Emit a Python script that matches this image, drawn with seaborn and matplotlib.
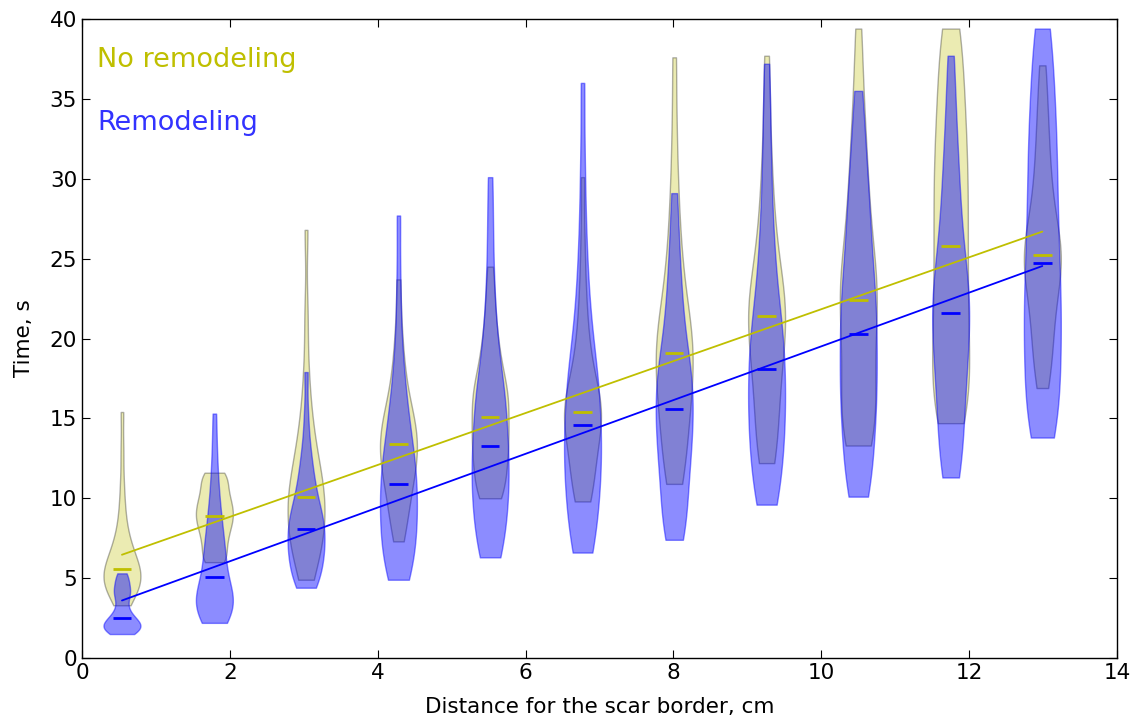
import numpy as np
import pandas as pd
import seaborn as sns
import matplotlib.pyplot as plt

# distance from the scar border (cm) for each violin pair
positions = [0.54, 1.79, 3.03, 4.28, 5.52, 6.77, 8.01, 9.26, 10.5, 11.75, 12.99]

# activation times (s), one list per distance
no_remodel = [
    [3.3, 3.5, 3.8, 4.0, 4.2, 4.4, 4.55, 4.7, 4.8, 4.9, 5.0, 5.1, 5.2, 5.3, 5.5,
     5.7, 5.85, 6.0, 6.2, 6.4, 6.6, 6.9, 7.2, 7.6, 8.1, 8.8, 9.7, 11.0, 13.0, 15.4],
    [6.0, 6.05, 6.1, 6.3, 6.6, 6.9, 7.1, 7.3, 7.5, 7.7, 7.9, 8.1, 8.25, 8.4, 8.55, 8.7, 8.85,
     8.95, 9.1, 9.25, 9.4, 9.55, 9.7, 9.85, 10.0, 10.2, 10.4, 10.6, 10.8, 11.0, 11.3, 11.45,
     11.55, 11.6],
    [4.9, 5.4, 5.9, 6.4, 6.8, 7.2, 7.5, 7.8, 8.1, 8.4, 8.7, 9.0, 9.3, 9.65, 10.0,
     10.2, 10.5, 10.8, 11.1, 11.5, 11.9, 12.4, 12.9, 13.5, 14.2, 15.1, 16.3, 18.2, 21.5, 26.8],
    [7.3, 8.0, 8.7, 9.3, 9.8, 10.3, 10.7, 11.1, 11.5, 11.8, 12.1, 12.4, 12.7, 13.0, 13.3,
     13.5, 13.8, 14.1, 14.4, 14.7, 15.0, 15.4, 15.8, 16.3, 16.9, 17.6, 18.5, 19.6, 21.2, 23.7],
    [10.0, 10.15, 10.3, 10.7, 11.1, 11.5, 11.9, 12.3, 12.7, 13.0, 13.3, 13.6, 13.9, 14.2, 14.5,
     14.9, 15.3, 15.6, 16.0, 16.3, 16.5, 16.7, 17.1, 17.5, 18.0, 18.5, 19.1, 19.8, 20.6, 21.6,
     22.9, 24.5],
    [9.8, 10.0, 10.3, 10.9, 11.4, 11.9, 12.4, 12.8, 13.2, 13.6, 14.0, 14.3, 14.6, 14.9, 15.1,
     15.3, 15.5, 15.8, 16.1, 16.3, 16.5, 16.9, 17.4, 17.9, 18.5, 19.2, 20.0, 21.0, 22.3, 24.0,
     26.5, 30.1],
    [10.9, 11.2, 11.8, 12.6, 13.3, 14.0, 14.6, 15.2, 15.7, 16.2, 16.7, 17.2, 17.6, 18.0, 18.4,
     18.9, 19.3, 19.8, 20.0, 20.3, 20.8, 21.4, 22.0, 22.7, 23.5, 24.4, 25.5, 26.8, 28.4, 30.5,
     33.5, 37.6],
    [12.2, 12.5, 13.1, 14.0, 14.8, 15.6, 16.3, 17.0, 17.6, 18.2, 18.8, 19.3, 19.8, 20.3, 20.8,
     21.2, 21.6, 22.0, 22.1, 22.6, 23.1, 23.7, 24.3, 25.0, 25.8, 26.7, 27.8, 29.0, 30.5, 32.3,
     34.8, 37.7],
    [13.3, 13.5, 13.7, 14.2, 14.8, 15.4, 16.0, 16.7, 17.4, 18.1, 18.8, 19.5, 20.2, 20.9, 21.6,
     22.2, 22.6, 23.2, 23.5, 23.9, 24.6, 25.4, 26.2, 27.1, 28.0, 29.0, 30.1, 31.3, 32.7, 34.3,
     36.5, 39.4],
    [14.7, 14.9, 15.4, 16.1, 16.8, 17.5, 18.2, 18.9, 19.7, 20.5, 21.3, 22.1, 22.9, 23.7, 24.5,
     25.4, 26.2, 27.0, 27.8, 28.6, 29.4, 30.2, 31.0, 31.8, 32.7, 33.6, 34.5, 35.5, 36.6, 37.9,
     39.2, 39.4],
    [16.9, 17.7, 18.5, 19.3, 20.0, 20.7, 21.4, 22.0, 22.6, 23.1, 23.6, 24.0, 24.4, 24.8, 25.1,
     25.3, 25.6, 26.0, 26.4, 26.9, 27.5, 28.1, 28.8, 29.6, 30.5, 31.5, 32.6, 33.8, 35.3, 37.1],
]

remodel = [
    [1.5, 1.6, 1.7, 1.75, 1.8, 1.9, 1.95, 2.0, 2.05, 2.1, 2.2, 2.3, 2.45,
     2.55, 2.7, 2.9, 3.2, 3.6, 3.8, 4.1, 4.2, 4.3, 4.6, 4.9, 5.1, 5.3],
    [2.2, 2.35, 2.55, 2.75, 2.95, 3.1, 3.25, 3.4, 3.55, 3.7, 3.85, 4.0, 4.2, 4.45, 4.8,
     5.4, 5.7, 6.0, 6.35, 6.7, 7.1, 7.5, 8.0, 8.5, 9.1, 9.8, 10.7, 11.8, 13.3, 15.3],
    [4.4, 4.55, 4.7, 5.0, 5.3, 5.6, 5.9, 6.15, 6.4, 6.6, 6.8, 7.0, 7.2, 7.45, 7.7, 8.0,
     8.2, 8.45, 8.6, 8.7, 9.0, 9.3, 9.6, 10.0, 10.4, 10.8, 11.3, 11.9, 12.6, 13.5, 15.2, 17.9],
    [4.9, 5.1, 5.3, 5.8, 6.3, 6.8, 7.2, 7.6, 8.0, 8.4, 8.8, 9.1, 9.4, 9.8, 10.2, 10.7,
     11.1, 11.5, 11.8, 12.0, 12.5, 13.0, 13.5, 14.1, 14.7, 15.4, 16.2, 17.1, 18.4, 20.3, 23.5, 27.7],
    [6.3, 6.5, 6.8, 7.4, 8.0, 8.6, 9.1, 9.6, 10.1, 10.5, 10.9, 11.3, 11.7, 12.1, 12.6, 13.1,
     13.5, 14.0, 14.5, 15.0, 15.6, 16.2, 16.5, 16.9, 17.6, 18.5, 19.5, 20.7, 22.2, 24.3, 27.0, 30.1],
    [6.6, 6.8, 7.2, 7.9, 8.6, 9.3, 9.9, 10.5, 11.0, 11.5, 12.0, 12.5, 12.9, 13.3, 13.8, 14.3,
     14.9, 15.4, 16.0, 16.6, 17.2, 17.5, 17.9, 18.7, 19.6, 20.6, 21.8, 23.2, 25.0, 27.5, 31.0, 36.0],
    [7.4, 7.6, 8.1, 8.9, 9.6, 10.3, 10.9, 11.5, 12.1, 12.6, 13.1, 13.6, 14.1, 14.5, 14.9, 15.4,
     15.8, 16.3, 16.8, 17.3, 17.6, 17.9, 18.5, 19.1, 19.8, 20.6, 21.5, 22.5, 23.7, 25.0, 26.8, 29.1],
    [9.6, 9.8, 10.3, 11.0, 11.7, 12.4, 13.0, 13.6, 14.2, 14.7, 15.2, 15.7, 16.2, 16.7, 17.2, 17.8,
     18.4, 19.0, 19.6, 20.0, 20.3, 21.0, 21.8, 22.7, 23.7, 24.8, 26.1, 27.6, 29.4, 31.6, 34.2, 37.2],
    [10.1, 10.4, 11.0, 11.9, 12.8, 13.6, 14.3, 15.0, 15.6, 16.2, 16.8, 17.4, 18.0, 18.6, 19.2, 19.9,
     20.7, 21.4, 21.8, 22.1, 22.9, 23.7, 24.5, 25.3, 26.2, 27.1, 28.1, 29.1, 30.3, 31.6, 33.4, 35.5],
    [11.3, 11.6, 12.3, 13.3, 14.2, 15.0, 15.8, 16.5, 17.2, 17.9, 18.5, 19.1, 19.7, 20.3, 20.9, 21.3,
     21.9, 22.5, 22.8, 23.1, 23.8, 24.5, 25.3, 26.1, 27.0, 28.0, 29.1, 30.3, 31.6, 33.1, 35.2, 37.7],
    [13.8, 14.0, 14.6, 15.4, 16.2, 17.0, 17.8, 18.6, 19.3, 20.0, 20.7, 21.4, 22.1, 22.8, 23.5, 24.3,
     25.1, 25.9, 26.7, 27.6, 28.5, 29.4, 30.3, 31.2, 32.1, 33.0, 34.0, 35.0, 36.1, 37.4, 39.2, 39.4],
]


def long_form(groups):
    rows = [(p, v) for p, vals in zip(positions, groups) for v in vals]
    return pd.DataFrame(rows, columns=["distance", "time"])


sns.set_style("ticks")
plt.rcParams.update({
    "font.family": ["DejaVu Sans"],
    "xtick.direction": "in", "ytick.direction": "in",
    "xtick.top": True, "ytick.right": True,
    "xtick.major.size": 6, "ytick.major.size": 6,
    "axes.edgecolor": "black", "axes.labelcolor": "black",
    "xtick.color": "black", "ytick.color": "black",
})

fig, ax = plt.subplots(figsize=(11.3, 7.25), dpi=100)
fig.subplots_adjust(left=0.0726, right=0.9885, top=0.9738, bottom=0.0924)

groups = [
    (no_remodel, (0.75, 0.75, 0.0), (0.75, 0.75, 0.0, 0.3), (0.0, 0.0, 0.0, 0.3)),
    (remodel, (0.0, 0.0, 1.0), (0.0, 0.0, 1.0, 0.45), (0.0, 0.0, 1.0, 0.45)),
]
for data, col, face, edge in groups:
    n0 = len(ax.collections)
    sns.violinplot(data=long_form(data), x="distance", y="time", native_scale=True,
                   orient="x", cut=0, density_norm="width", width=0.403, inner=None,
                   bw_adjust=0.7, color=col, linewidth=1, ax=ax)
    for c in ax.collections[n0:]:
        c.set_facecolor(face)
        c.set_edgecolor(edge)

    # medians and the straight-line fit through them
    med = np.array([np.median(v) for v in data])
    ax.hlines(med, np.array(positions) - 0.125, np.array(positions) + 0.125,
              color=col, lw=2, zorder=3)
    k, b = np.polyfit(positions, med, 1)
    xs = np.array([positions[0], positions[-1]])
    ax.plot(xs, k * xs + b, color=col, lw=1.3, zorder=3)

ax.text(0.0145, 0.925, "No remodeling", color="y", fontsize=19.5,
        transform=ax.transAxes, va="baseline")
ax.text(0.0145, 0.826, "Remodeling", color="b", fontsize=19.5,
        transform=ax.transAxes, va="baseline", alpha=0.8)

ax.set_xlim(0, 14)
ax.set_ylim(0, 40)
ax.set_xticks(range(0, 15, 2))
ax.set_xticklabels([str(t) for t in range(0, 15, 2)])
ax.set_yticks(range(0, 41, 5))
ax.tick_params(labelsize=15.5)
ax.set_xlabel("Distance for the scar border, cm", fontsize=15.5, labelpad=10)
ax.set_ylabel("Time, s", fontsize=15.5, labelpad=11)
for s in ax.spines.values():
    s.set_visible(True)
    s.set_linewidth(1)

fig.savefig("out.png", dpi=100)
